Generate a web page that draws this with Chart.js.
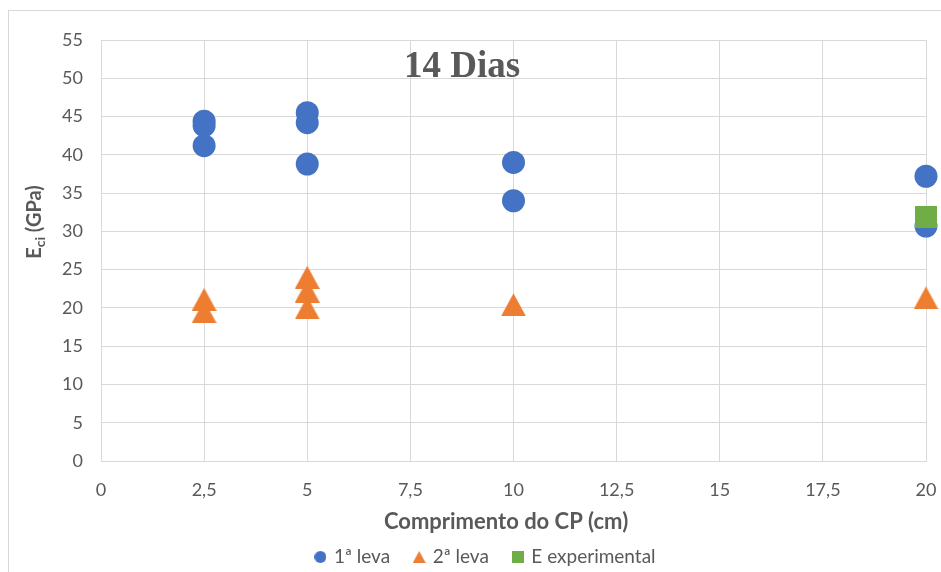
<!DOCTYPE html>
<html>
<head>
<meta charset="utf-8">
<script src="https://cdn.jsdelivr.net/npm/chart.js@4.4.0/dist/chart.umd.min.js"></script>
<style>
  html, body { margin: 0; padding: 0; background: #fff; }
  #wrap { width: 941px; height: 572px; }
</style>
</head>
<body>
<div id="wrap"><canvas id="ecChart" width="941" height="572"></canvas></div>
<script>
// Módulo de elasticidade (GPa) por comprimento do CP (cm) - 14 dias
const comprimento1 = [2.5, 2.5, 2.5, 5, 5, 5, 10, 10, 20, 20];
const leva1 = [44.4, 43.8, 41.2, 45.5, 44.2, 38.8, 39.0, 34.0, 37.2, 30.7];

const comprimento2 = [2.5, 2.5, 5, 5, 5, 10, 20];
const leva2 = [21.1, 19.5, 24.0, 22.2, 20.0, 20.4, 21.3];

const comprimentoExp = [20];
const eExperimental = [31.9];

const seriesNames = ['1ª leva', '2ª leva', 'E experimental'];
const seriesColors = ['#4472C4', '#ED7D31', '#70AD47'];

const TEXT = '#595959';
const GRID = '#d9d9d9';
const FONT = 'Lato, "Liberation Sans", sans-serif';

function toPoints(xs, ys) {
    return xs.map((x, i) => ({ x: x, y: ys[i] }));
}

// marcadores desenhados em canvas para centralizar pelo retângulo (como no Excel)
function markerCanvas(shape, w, h, color) {
    const c = document.createElement('canvas');
    c.width = w;
    c.height = h;
    const g = c.getContext('2d');
    g.fillStyle = color;
    g.beginPath();
    if (shape === 'triangle') {
        g.moveTo(w / 2, 0);
        g.lineTo(w, h);
        g.lineTo(0, h);
        g.closePath();
    } else if (shape === 'circle') {
        g.arc(w / 2, h / 2, w / 2, 0, Math.PI * 2);
    } else {
        g.rect(0, 0, w, h);
    }
    g.fill();
    return c;
}

const legendMarks = [
    markerCanvas('circle', 12, 12, seriesColors[0]),
    markerCanvas('triangle', 13, 12, seriesColors[1]),
    markerCanvas('rect', 12, 12, seriesColors[2])
];

const frame = {
    id: 'frame',
    beforeDraw(chart) {
        const ctx = chart.ctx;
        ctx.save();
        ctx.fillStyle = '#fff';
        ctx.fillRect(0, 0, chart.width, chart.height);
        ctx.strokeStyle = GRID;
        ctx.lineWidth = 1;
        ctx.strokeRect(8.5, 10.5, chart.width + 50, chart.height + 50);
        ctx.restore();
    }
};

const labels = {
    id: 'labels',
    afterDraw(chart) {
        const ctx = chart.ctx;
        const a = chart.chartArea;
        const w = a.right - a.left;
        ctx.save();
        ctx.fillStyle = TEXT;

        // título dentro da área do gráfico
        ctx.font = 'bold 37px "Liberation Serif", "Times New Roman", serif';
        ctx.textAlign = 'center';
        ctx.textBaseline = 'alphabetic';
        ctx.fillText('14 Dias', a.left + 0.4376 * w, a.top + 37);

        // título do eixo x
        ctx.font = 'bold 22px ' + FONT;
        ctx.textBaseline = 'middle';
        ctx.fillText('Comprimento do CP (cm)', a.left + 0.491 * w, 522);

        // título do eixo y com subscrito
        const big = 'bold 20px ' + FONT;
        const small = 'bold 14px ' + FONT;
        ctx.font = big;
        const wE = ctx.measureText('E').width;
        const wRest = ctx.measureText(' (GPa)').width;
        ctx.font = small;
        const wSub = ctx.measureText('ci').width;
        const total = wE + wSub + wRest;
        ctx.translate(35, 222);
        ctx.rotate(-Math.PI / 2);
        ctx.textAlign = 'left';
        ctx.textBaseline = 'middle';
        let x = -total / 2;
        ctx.font = big;
        ctx.fillText('E', x, 0);
        x += wE;
        ctx.font = small;
        ctx.fillText('ci', x, 5);
        x += wSub;
        ctx.font = big;
        ctx.fillText(' (GPa)', x, 0);
        ctx.restore();
    }
};

let chart;

function initChart() {
    const ctx = document.getElementById('ecChart').getContext('2d');
    chart = new Chart(ctx, {
        type: 'scatter',
        data: {
            datasets: [{
                label: seriesNames[0],
                data: toPoints(comprimento1, leva1),
                backgroundColor: seriesColors[0],
                borderColor: seriesColors[0],
                pointStyle: 'circle',
                pointRadius: 11.5,
                pointHoverRadius: 11.5,
                borderWidth: 0,
                clip: false,
                order: 3
            }, {
                label: seriesNames[1],
                data: toPoints(comprimento2, leva2),
                backgroundColor: seriesColors[1],
                pointStyle: markerCanvas('triangle', 25, 23, seriesColors[1]),
                pointRadius: 12,
                clip: false,
                order: 2
            }, {
                label: seriesNames[2],
                data: toPoints(comprimentoExp, eExperimental),
                backgroundColor: seriesColors[2],
                pointStyle: markerCanvas('rect', 22, 22, seriesColors[2]),
                pointRadius: 11,
                clip: false,
                order: 1
            }]
        },
        options: {
            responsive: false,
            animation: false,
            layout: {
                padding: { left: 46, top: 40, right: 15, bottom: -4.5 }
            },
            plugins: {
                tooltip: { enabled: false },
                legend: {
                    position: 'bottom',
                    labels: {
                        usePointStyle: true,
                        boxWidth: 8,
                        boxHeight: 12,
                        padding: 25,
                        color: TEXT,
                        font: { family: FONT, size: 19 },
                        generateLabels: () => seriesNames.map((name, i) => ({
                            text: name,
                            pointStyle: legendMarks[i],
                            fillStyle: seriesColors[i],
                            strokeStyle: seriesColors[i],
                            lineWidth: 0,
                            fontColor: TEXT,
                            hidden: false,
                            datasetIndex: i
                        }))
                    }
                }
            },
            scales: {
                x: {
                    type: 'linear',
                    min: 0,
                    max: 20,
                    ticks: {
                        stepSize: 2.5,
                        padding: 18,
                        color: TEXT,
                        font: { family: FONT, size: 18 },
                        callback: v => String(v).replace('.', ',')
                    },
                    grid: { color: GRID, drawTicks: false },
                    border: { color: GRID },
                    afterFit: s => {
                        s.height = 61.5;
                        s.paddingRight = 0;
                    }
                },
                y: {
                    min: 0,
                    max: 55,
                    ticks: {
                        stepSize: 5,
                        padding: 18,
                        color: TEXT,
                        font: { family: FONT, size: 18 }
                    },
                    grid: { color: GRID, drawTicks: false },
                    border: { color: GRID },
                    afterFit: s => { s.width = 55; }
                }
            }
        },
        plugins: [frame, labels]
    });
}

window.onload = initChart;
</script>
</body>
</html>
